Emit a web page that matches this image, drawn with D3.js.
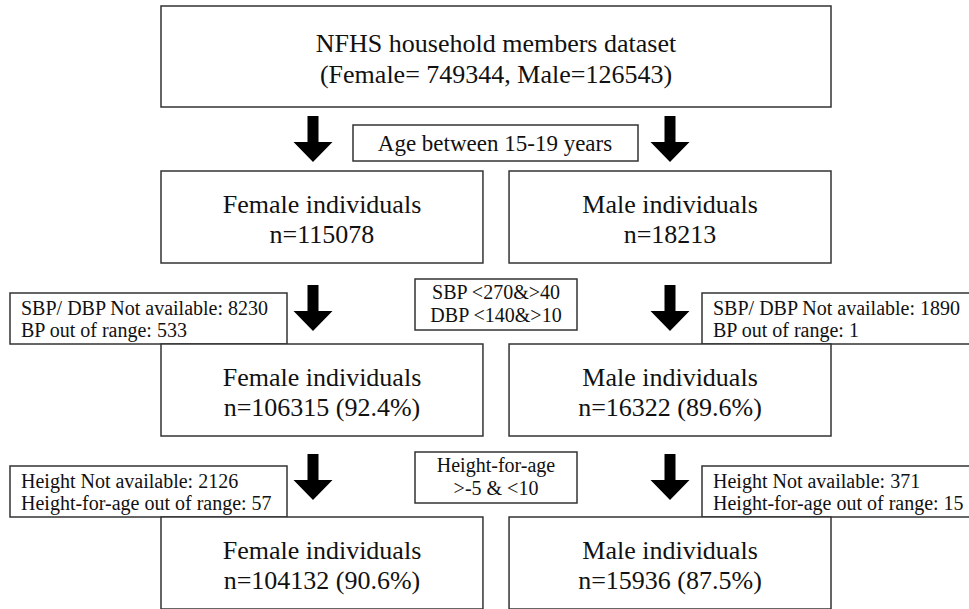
<!DOCTYPE html>
<html>
<head>
<meta charset="utf-8">
<script src="https://cdn.jsdelivr.net/npm/d3@7"></script>
<style>
  html, body { margin: 0; padding: 0; background: #fff; }
  svg { display: block; }
  text { font-family: "Liberation Serif", "Times New Roman", serif; fill: #111; }
</style>
</head>
<body>
<svg id="chart" width="969" height="609"></svg>
<script>
// flowchart content
const topLines = ["NFHS household members dataset", "(Female= 749344, Male=126543)"];
const groups = ["Female individuals", "Male individuals"];
const stageCounts = [[115078, 18213], [106315, 16322], [104132, 15936]];
const stagePercents = [[null, null], ["92.4%", "89.6%"], ["90.6%", "87.5%"]];
const criteria = [
  ["Age between 15-19 years"],
  ["SBP <270&>40", "DBP <140&>10"],
  ["Height-for-age", ">-5 & <10"]
];
const exclusionLabels = [null, ["SBP/ DBP Not available", "BP out of range"], ["Height Not available", "Height-for-age out of range"]];
const exclusionValues = [null, [[8230, 533], [1890, 1]], [[2126, 57], [371, 15]]];

const svg = d3.select("#chart");
const stroke = "#333";

// columns and rows
const x = d3.scaleBand().domain(groups).range([161, 831]).paddingInner(0.075);
const y = d3.scaleLinear().domain([0, 2]).range([171, 517]);
const boxH = 92;
const arrowX = [313, 670];
const arrowLift = [55, 59, 63];

// top box
const topG = svg.append("g");
topG.append("rect")
  .attr("x", 161).attr("y", 6).attr("width", 670).attr("height", 101)
  .attr("fill", "#fff").attr("stroke", stroke).attr("stroke-width", 1.5);
topG.selectAll("text").data(topLines).enter().append("text")
  .attr("x", 496).attr("y", (d, i) => 52 + i * 31)
  .attr("text-anchor", "middle").style("font-size", "26px")
  .text(d => d);

// arrow shape, drawn downward from (0,0)
function arrowPath(h) {
  const sw = 5.5, hw = 19.5, hl = 20;
  return `M${-sw},0 L${sw},0 L${sw},${h - hl} L${hw},${h - hl} L0,${h} L${-hw},${h - hl} L${-sw},${h - hl} Z`;
}

stageCounts.forEach((counts, s) => {
  const top = y(s);

  // arrows
  arrowX.forEach(ax => {
    svg.append("path")
      .attr("d", arrowPath(46))
      .attr("transform", `translate(${ax},${top - arrowLift[s]})`)
      .attr("fill", "#000");
  });

  // criteria box in the middle
  const crit = criteria[s];
  if (s === 0) {
    svg.append("rect")
      .attr("x", 353).attr("y", 125).attr("width", 285).attr("height", 36)
      .attr("fill", "#fff").attr("stroke", stroke).attr("stroke-width", 1.5);
    svg.append("text")
      .attr("x", 495).attr("y", 151)
      .attr("text-anchor", "middle").style("font-size", "23px")
      .text(crit[0]);
  } else {
    const cy = top - 65;
    svg.append("rect")
      .attr("x", 415).attr("y", cy).attr("width", 162).attr("height", 51)
      .attr("fill", "#fff").attr("stroke", stroke).attr("stroke-width", 1.5);
    svg.selectAll(null).data(crit).enter().append("text")
      .attr("x", 496).attr("y", (d, i) => cy + 20 + i * 23)
      .attr("text-anchor", "middle").style("font-size", "20px")
      .text(d => d);
  }

  // exclusion boxes
  if (exclusionValues[s]) {
    const nb = [{ x: 10, w: 277 }, { x: 702, w: 290 }];
    exclusionValues[s].forEach((vals, g) => {
      const ny = top - 51;
      svg.append("rect")
        .attr("x", nb[g].x).attr("y", ny).attr("width", nb[g].w).attr("height", 51)
        .attr("fill", "#fff").attr("stroke", stroke).attr("stroke-width", 1.5);
      svg.selectAll(null).data(vals).enter().append("text")
        .attr("x", nb[g].x + 11).attr("y", (d, i) => ny + 22 + i * 22)
        .style("font-size", "20px")
        .text((d, i) => `${exclusionLabels[s][i]}: ${d}`);
    });
  }

  // group boxes
  groups.forEach((grp, g) => {
    const bx = x(grp);
    svg.append("rect")
      .attr("x", bx).attr("y", top).attr("width", x.bandwidth()).attr("height", boxH)
      .attr("fill", "#fff").attr("stroke", stroke).attr("stroke-width", 1.5);
    const pct = stagePercents[s][g];
    const lines = [grp, `n=${counts[g]}` + (pct ? ` (${pct})` : "")];
    svg.selectAll(null).data(lines).enter().append("text")
      .attr("x", bx + x.bandwidth() / 2).attr("y", (d, i) => top + 42 + i * 30)
      .attr("text-anchor", "middle").style("font-size", "26px")
      .text(d => d);
  });
});
</script>
</body>
</html>
